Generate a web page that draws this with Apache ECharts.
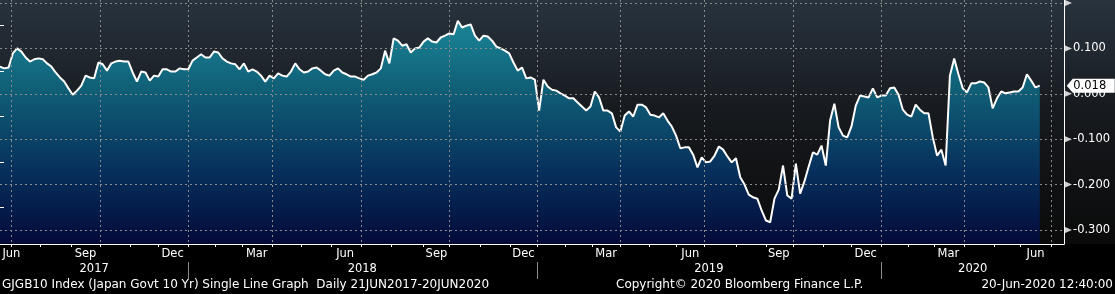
<!DOCTYPE html>
<html><head><meta charset="utf-8">
<style>html,body{margin:0;padding:0;background:#000;}#c{width:1115px;height:294px;}</style>
<script src="https://cdn.jsdelivr.net/npm/echarts@6/dist/echarts.min.js"></script>
</head><body><div id="c"></div>
<script>
// ---- data ----
const startDate = '2017-06-21';
const categoryCount = 747;     // trading days shown on the axis (data + empty right margin)
const sampleStep = 3;          // one reading every 3 trading days
const jpHolidays = [
 '2017-07-17','2017-08-11','2017-09-18','2017-10-09','2017-11-03','2017-11-23',
 '2018-01-01','2018-01-02','2018-01-03','2018-01-08','2018-02-12','2018-03-21','2018-04-30','2018-05-03','2018-05-04',
 '2018-07-16','2018-09-17','2018-09-24','2018-10-08','2018-11-23','2018-12-24','2018-12-31',
 '2019-01-01','2019-01-02','2019-01-03','2019-01-14','2019-02-11','2019-03-21','2019-04-29','2019-04-30','2019-05-01',
 '2019-05-02','2019-05-03','2019-05-06','2019-07-15','2019-08-12','2019-09-16','2019-09-23','2019-10-14','2019-10-22',
 '2019-11-04','2019-12-31',
 '2020-01-01','2020-01-02','2020-01-03','2020-01-13','2020-02-11','2020-02-24','2020-03-20','2020-04-29','2020-05-04',
 '2020-05-05','2020-05-06'
];
const values = [
 0.060,0.056,0.058,0.089,0.100,0.093,0.080,0.071,0.076,0.078,
 0.076,0.067,0.060,0.047,0.036,0.027,0.012,-0.002,0.007,0.018,
 0.040,0.036,0.034,0.069,0.065,0.051,0.067,0.071,0.073,0.071,
 0.071,0.047,0.027,0.049,0.047,0.029,0.040,0.038,0.054,0.054,
 0.049,0.049,0.056,0.054,0.054,0.073,0.080,0.087,0.080,0.080,
 0.093,0.091,0.078,0.071,0.067,0.065,0.054,0.067,0.049,0.054,
 0.049,0.040,0.027,0.040,0.034,0.045,0.040,0.038,0.049,0.067,
 0.054,0.047,0.049,0.056,0.058,0.051,0.043,0.040,0.051,0.056,
 0.047,0.043,0.038,0.038,0.034,0.031,0.040,0.043,0.047,0.056,
 0.095,0.067,0.122,0.117,0.106,0.109,0.091,0.100,0.102,0.115,
 0.122,0.115,0.113,0.124,0.128,0.133,0.131,0.161,0.146,0.150,
 0.153,0.128,0.117,0.128,0.126,0.117,0.104,0.100,0.095,0.089,
 0.069,0.051,0.058,0.034,0.036,0.031,-0.037,0.031,0.016,0.009,
 0.007,0.001,-0.004,-0.010,-0.010,-0.019,-0.028,-0.037,-0.028,0.005,
 -0.008,-0.037,-0.037,-0.043,-0.074,-0.083,-0.048,-0.039,-0.050,-0.024,
 -0.024,-0.030,-0.046,-0.048,-0.052,-0.043,-0.059,-0.072,-0.092,-0.120,
 -0.118,-0.118,-0.134,-0.162,-0.140,-0.151,-0.149,-0.136,-0.116,-0.123,
 -0.138,-0.151,-0.142,-0.184,-0.200,-0.222,-0.228,-0.231,-0.257,-0.279,
 -0.283,-0.231,-0.211,-0.158,-0.224,-0.231,-0.154,-0.220,-0.193,-0.160,
 -0.129,-0.134,-0.114,-0.158,-0.059,-0.022,-0.074,-0.092,-0.096,-0.072,
 -0.026,-0.004,-0.006,-0.008,0.012,-0.008,-0.004,-0.004,0.012,0.014,
 -0.002,-0.035,-0.046,-0.050,-0.024,-0.035,-0.043,-0.043,-0.096,-0.136,
 -0.123,-0.158,0.040,0.078,0.043,0.012,0.003,0.023,0.023,0.027,
 0.025,0.014,-0.032,-0.010,0.005,0.001,0.003,0.005,0.005,0.014,
 0.043,0.029,0.014,0.018
];
const lastValueLabel = '0.018';
const yTicks = [0.2, 0.1, 0.0, -0.1, -0.2, -0.3];
const monthAbbr = ['Jan','Feb','Mar','Apr','May','Jun','Jul','Aug','Sep','Oct','Nov','Dec'];
const labelMonths = [2, 5, 8, 11];
const quarterMonths = [0, 3, 6, 9];
const footerLeft = 'GJGB10 Index (Japan Govt 10 Yr) Single Line Graph  Daily 21JUN2017-20JUN2020';
const footerMid = 'Copyright\u00A9 2020 Bloomberg Finance L.P.';
const footerRight = '20-Jun-2020 12:40:00';

// ---- categories: Tokyo trading days ----
const hol = new Set(jpHolidays);
const categories = [];
const d = new Date(startDate + 'T00:00:00Z');
while (categories.length < categoryCount) {
  const wd = d.getUTCDay();
  const s = d.toISOString().slice(0, 10);
  if (wd !== 0 && wd !== 6 && !hol.has(s)) categories.push(s);
  d.setUTCDate(d.getUTCDate() + 1);
}
const monthGroups = [];  // {y, m, first, last}
const yearGroups = {};
categories.forEach((s, i) => {
  const y = +s.slice(0, 4), m = +s.slice(5, 7) - 1;
  const g = monthGroups[monthGroups.length - 1];
  if (!g || g.y !== y || g.m !== m) monthGroups.push({y, m, first: i, last: i});
  else g.last = i;
  if (!yearGroups[y]) yearGroups[y] = {first: i, last: i}; else yearGroups[y].last = i;
});
const monthStart = new Set(), quarterStart = new Set(), yearStart = new Set();
const monthLabelAt = new Map(), yearLabelAt = new Map();
const minLabelIdx = 8;
monthGroups.forEach(g => {
  if (g.first > 0) {
    monthStart.add(g.first);
    if (quarterMonths.includes(g.m)) quarterStart.add(g.first);
    if (g.m === 0) yearStart.add(g.first);
  }
  if (labelMonths.includes(g.m)) {
    const mid = Math.max(minLabelIdx, Math.round((g.first + g.last) / 2));
    monthLabelAt.set(mid, monthAbbr[g.m]);
  }
});
Object.keys(yearGroups).forEach(y => {
  const g = yearGroups[y];
  yearLabelAt.set(Math.round((g.first + g.last) / 2), y);
});
const lineData = values.map((v, i) => [categories[i * sampleStep], v]);
const lastIdx = (values.length - 1) * sampleStep;

// ---- layout ----
const H = 294;
const plotBottom = 244;          // x axis line
const tickTop = 3, tickBottom = 230;  // pixel rows of 0.2 and -0.3
const pxPerUnit = (tickBottom - tickTop) / (yTicks[0] - yTicks[yTicks.length - 1]);
const yMax = yTicks[0] + tickTop / pxPerUnit;
const yMin = yTicks[yTicks.length - 1] - (plotBottom - tickBottom) / pxPerUnit;
const FONT = 'DejaVu Sans';
const FS = 11.5;
const FS_FOOT = 12;
const gridCol = '#8a8a8a';

const chart = echarts.init(document.getElementById('c'), null, {renderer: 'canvas'});
chart.setOption({
  animation: false,
  backgroundColor: {type: 'linear', x: 0, y: 0, x2: 0, y2: 1, colorStops: [
    {offset: 0, color: '#28333e'}, {offset: 0.4, color: '#16191d'},
    {offset: 0.829, color: '#0a0a0a'}, {offset: 0.83, color: '#000'}, {offset: 1, color: '#000'}]},
  title: [
    {text: footerLeft, left: 2, top: 279, padding: 0, textStyle: {color: '#fff', fontSize: FS_FOOT, fontWeight: 'normal', fontFamily: FONT}},
    {text: footerMid, left: 616, top: 279, padding: 0, textStyle: {color: '#fff', fontSize: FS_FOOT, fontWeight: 'normal', fontFamily: FONT}},
    {text: footerRight, right: 2, top: 279, padding: 0, textStyle: {color: '#fff', fontSize: FS_FOOT, fontWeight: 'normal', fontFamily: FONT}}
  ],
  grid: [
    {left: 0, right: 51, top: 0, bottom: H - plotBottom, outerBoundsMode: 'none', containLabel: false},
    {left: 0, right: 51, top: tickTop, bottom: H - tickBottom, outerBoundsMode: 'none', containLabel: false}
  ],
  xAxis: [
    {type: 'category', gridIndex: 0, data: categories, boundaryGap: false, z: 3,
     axisLine: {show: true, onZero: false, lineStyle: {color: '#fff', width: 1}},
     axisTick: {show: true, interval: i => monthStart.has(i), length: 3, lineStyle: {color: '#fff'}},
     axisLabel: {show: true, interval: i => monthLabelAt.has(i), formatter: (v, i) => monthLabelAt.get(i) || '',
       color: '#fff', fontSize: FS, fontFamily: FONT, margin: 4},
     splitLine: {show: true, interval: i => quarterStart.has(i), lineStyle: {color: gridCol, type: [2, 3], width: 1}}},
    {type: 'category', gridIndex: 0, data: categories, boundaryGap: false, position: 'bottom', offset: 18, z: 3,
     axisLine: {show: false, onZero: false},
     axisTick: {show: true, interval: i => yearStart.has(i), length: 17, lineStyle: {color: '#8c8c8c'}},
     axisLabel: {show: true, interval: i => yearLabelAt.has(i), formatter: (v, i) => yearLabelAt.get(i) || '',
       color: '#fff', fontSize: FS, fontFamily: FONT, margin: 1},
     splitLine: {show: false}},
    {type: 'value', gridIndex: 1, min: 0, max: 1, show: false}
  ],
  yAxis: [
    {type: 'value', gridIndex: 0, min: yMin, max: yMax, position: 'right', z: 3,
     axisLine: {show: true, lineStyle: {color: '#fff', width: 1}},
     axisTick: {show: false}, axisLabel: {show: false}, splitLine: {show: false}},
    {type: 'value', gridIndex: 1, min: yTicks[yTicks.length - 1], max: yTicks[0], interval: 0.1, position: 'right', z: 3,
     axisLine: {show: false}, axisTick: {show: false},
     minorTick: {show: true, splitNumber: 2, length: 4, lineStyle: {color: '#fff', width: 1}},
     minorSplitLine: {show: false},
     axisLabel: {color: '#fff', fontSize: FS, fontFamily: FONT, margin: 9, showMaxLabel: false,
       formatter: v => v.toFixed(3)},
     splitLine: {show: true, lineStyle: {color: gridCol, type: [2, 3], width: 1}}}
  ],
  series: [
    {type: 'line', xAxisIndex: 0, yAxisIndex: 0, data: lineData, symbol: 'none', showSymbol: false, z: 2,
     lineStyle: {color: '#ffffff', width: 2},
     areaStyle: {origin: 'start', opacity: 1, color: {type: 'linear', x: 0, y: 0, x2: 0, y2: plotBottom, global: true,
       colorStops: [{offset: 0, color: '#1f91a2'}, {offset: 0.35, color: '#106178'},
                    {offset: 0.7, color: '#07305c'}, {offset: 1, color: '#030a3a'}]}},
     markPoint: {z: 6, animation: false, symbol: 'path://M0,7 L6,0 L48,0 L48,14 L6,14 Z',
       symbolSize: [48, 14], symbolKeepAspect: false, symbolOffset: [51, 0], itemStyle: {color: '#fff'},
       label: {show: true, position: 'inside', offset: [-1, 0], color: '#000', fontSize: FS, fontFamily: FONT, formatter: lastValueLabel},
       data: [{coord: [categories[lastIdx], values[values.length - 1]]}]}},
    {type: 'scatter', xAxisIndex: 2, yAxisIndex: 1, data: yTicks.map(v => [1, v]), silent: true, clip: false, z: 4,
     symbol: 'path://M0,0 L10,5 L0,10 Z', symbolSize: [8, 7], symbolOffset: [4, 0], itemStyle: {color: '#fff'}}
  ]
});
</script></body></html>
